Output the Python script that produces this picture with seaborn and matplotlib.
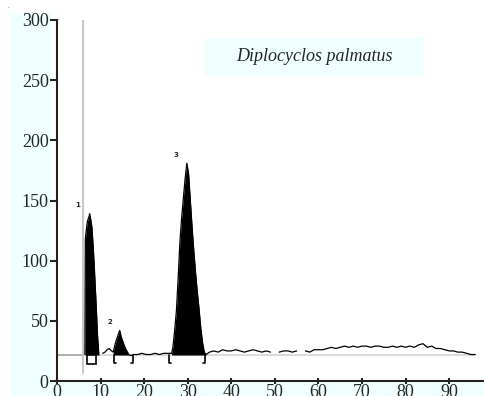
import numpy as np
import pandas as pd
import matplotlib
matplotlib.use("Agg")
import matplotlib.pyplot as plt
from matplotlib.patches import Rectangle
import seaborn as sns

# ---------------- data ----------------
trace_x = [6.4, 6.5, 6.8, 7.0, 7.3, 7.5, 7.8, 8.0, 8.3, 8.6, 9.0, 9.3, 9.6,
           np.nan,
           10.5, 11.0, 11.5, 12.0, 12.5, 12.9, 13.3, 13.7, 14.1, 14.4, 14.7, 15.1, 15.5, 16.0, 16.5, 17.0,
           17.5, 18.5, 19.5, 20.5, 21.5, 22.5, 23.5, 24.5, 25.5, 26.3,
           26.6, 27.0, 27.4, 27.8, 28.2, 28.6, 29.0, 29.4, 29.8, 30.2, 30.6, 31.0, 31.4, 31.8,
           32.2, 32.6, 33.0, 33.4, 33.8, 34.2,
           35, 36, 37, 38, 39, 40, 41, 42, 43, 44, 45, 46, 47, 48, 49,
           np.nan,
           51, 52, 53, 54, 55,
           np.nan,
           57, 58, 59, 60, 61, 62, 63, 64, 65, 66, 67, 68, 69, 70, 71, 72, 73, 74, 75, 76,
           77, 78, 79, 80, 81, 82, 83, 84, 85, 86, 87, 88, 89, 90, 91, 92, 93, 94, 95, 96]
trace_y = [22, 118, 128, 133, 136, 139, 133, 128, 112, 92, 62, 38, 22,
           np.nan,
           23, 24, 26, 27, 25, 24, 30, 35, 39, 42, 37, 33, 29, 25, 22, 21,
           22, 22, 23, 22, 22, 23, 22, 23, 23, 23,
           28, 42, 58, 85, 115, 135, 152, 168, 181, 172, 150, 128, 108, 90,
           74, 60, 44, 32, 24, 22,
           24, 25, 24, 26, 25, 25, 26, 25, 24, 25, 26, 25, 24, 25, 24,
           np.nan,
           24, 25, 25, 24, 25,
           np.nan,
           25, 24, 26, 26, 26, 27, 28, 27, 28, 29, 28, 29, 28, 29, 29, 28, 29, 29, 28, 28,
           29, 28, 29, 28, 29, 28, 30, 31, 28, 29, 27, 27, 26, 25, 25, 24, 24, 23, 22, 22]

peak_ranges = [(6.4, 9.6), (12.9, 17.0), (26.3, 34.2)]
bracket_ranges = [(13.1, 17.4), (25.7, 34.0)]
box_range = (6.8, 9.0)
peak_labels = ["1", "2", "3"]
peak_label_pos = [(4.8, 146), (12.2, 49), (27.3, 188)]
baseline = 21.6
marker_x = 6.0
title = "Diplocyclos palmatus"
xticks = [0, 10, 20, 30, 40, 50, 60, 70, 80, 90]
yticks = [0, 50, 100, 150, 200, 250, 300]

# ---------------- figure ----------------
sns.set_style("white")
plt.rcParams["font.family"] = "serif"
plt.rcParams["font.serif"] = ["Liberation Serif", "DejaVu Serif"]

W, H = 484, 396
fig = plt.figure(figsize=(W / 100, H / 100), dpi=100)
fig.patch.set_facecolor("white")

azure = "#f0ffff"
fig.patches.append(Rectangle((10 / W, 0), 40 / W, (H - 13) / H,
                             transform=fig.transFigure, color=azure, zorder=-2))
fig.patches.append(Rectangle((10 / W, 0), (W - 10) / W, 15 / H,
                             transform=fig.transFigure, color=azure, zorder=-2))

ax = fig.add_axes([57 / W, 15 / H, (W - 57) / W, (381 - 20) / H])
ax.set_facecolor("white")

x = np.array(trace_x, dtype=float)
y = np.array(trace_y, dtype=float)
seg = np.cumsum(np.isnan(x))
df = pd.DataFrame({"x": x, "y": y, "seg": seg}).dropna()

# reference lines
ax.plot([0, marker_x], [baseline, baseline], color="#a0a0a0", lw=1.2, zorder=1)
ax.plot([marker_x, 96], [baseline, baseline], color="#dcdcdc", lw=1.5, zorder=1)
ax.plot([marker_x, marker_x], [7, 300], color="#c8c8c8", lw=1.5, zorder=1)

# filled peaks
for a, b in peak_ranges:
    sub = df[(df.x >= a) & (df.x <= b)]
    ax.fill_between(sub.x, baseline, sub.y, color="black", lw=0, zorder=2)

sns.lineplot(data=df, x="x", y="y", units="seg", estimator=None,
             color="black", lw=0.9, ax=ax, zorder=3)

# integration brackets
for a, b in bracket_ranges:
    ax.plot([a + 0.5, a, a], [15, 15, baseline], color="black", lw=1.2, zorder=4)
    ax.plot([b - 0.5, b, b], [15, 15, baseline], color="black", lw=1.2, zorder=4)
ax.add_patch(Rectangle((box_range[0], 14), box_range[1] - box_range[0], baseline - 14,
                       facecolor="white", edgecolor="black", lw=1.2, zorder=4))

for lab, (px, py) in zip(peak_labels, peak_label_pos):
    ax.text(px, py, lab, fontsize=5, fontweight="bold", ha="center", va="center",
            family="DejaVu Sans", zorder=5)

ax.set_xlim(0, 98)
ax.set_ylim(0, 300)
ax.set_xticks(xticks)
ax.set_yticks(yticks)
ax.set_xlabel("")
ax.set_ylabel("")
for s in ["top", "right"]:
    ax.spines[s].set_visible(False)
for s in ["left", "bottom"]:
    ax.spines[s].set_color("#222222")
    ax.spines[s].set_linewidth(1.5)
ax.tick_params(axis="y", direction="out", length=5, width=1.5, labelsize=13, pad=1, left=True)
ax.tick_params(axis="x", direction="inout", length=4, width=1.5, labelsize=13, pad=0, bottom=True)

# title box
fig.patches.append(Rectangle((205 / W, 1 - 75 / H), 218 / W, 37 / H,
                             transform=fig.transFigure, color=azure, zorder=5))
fig.text(314 / W, 1 - 56.5 / H, title, fontsize=13, style="italic",
         ha="center", va="center", zorder=6)
fig.text(8 / W, 1 - 6 / H, ".", fontsize=5, ha="center", va="center")

fig.savefig("out.png", dpi=100)
